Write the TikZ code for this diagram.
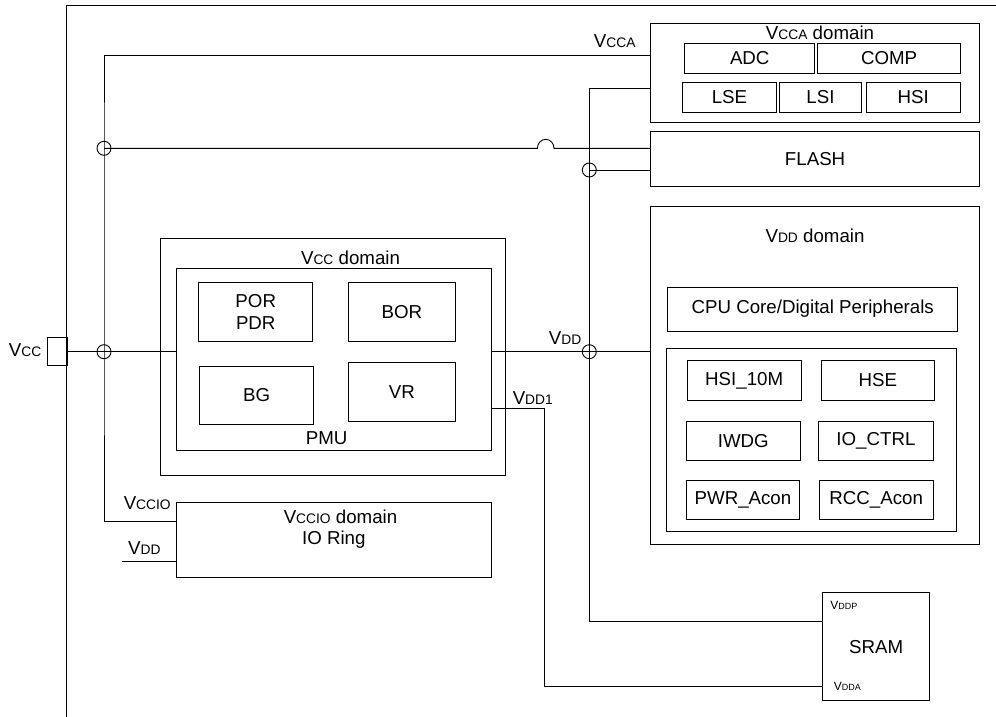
\documentclass[tikz,border=0pt]{standalone}
\usepackage{fontspec}
\setmainfont{Liberation Sans}
\newcommand{\sv}[1]{{\fontsize{13.8}{14}\selectfont #1}}
\newcommand{\tv}[1]{{\fontsize{9}{10}\selectfont #1}}
\newcommand{\tV}{{\fontsize{12}{13}\selectfont V}}
\begin{document}
\begin{tikzpicture}[x=1pt,y=-1pt, line width=0.9pt,
 every node/.style={font=\fontsize{18.7}{22}\selectfont, inner sep=0pt},
 box/.style={draw, anchor=north west, align=center},
 jn/.style={draw, circle, minimum size=14pt, inner sep=0pt}]
\useasboundingbox (0,0) rectangle (996,717);
% outer frame
\draw (66.7,717) -- (66.7,5.5) -- (996,5.5);
% VCCA domain
\node[box, minimum width=329.3pt, minimum height=99pt] (vccadom) at (650,22.7) {};
\node (vccat) at (820,33) {V\sv{CCA} domain};
\node[box, minimum width=130pt, minimum height=30pt] (adc) at (684.3,42.7) {ADC};
\node[box, minimum width=142.7pt, minimum height=30pt] (comp) at (817.3,42.7) {COMP};
\node[box, minimum width=93.4pt, minimum height=30.6pt] (lse) at (682.3,81.7) {LSE};
\node[box, minimum width=82pt, minimum height=30.6pt] (lsi) at (779,81.7) {LSI};
\node[box, minimum width=94.3pt, minimum height=30.6pt] (hsi) at (865.7,81.7) {HSI};
% FLASH
\node[box, minimum width=329.3pt, minimum height=55pt] (flash) at (650,130.7) {FLASH};
% VDD domain
\node[box, minimum width=329.8pt, minimum height=338pt] (vdddom) at (649.5,206) {};
\node (vddt) at (815,236) {V\sv{DD} domain};
\node[box, minimum width=290pt, minimum height=44pt] (cpu) at (667.3,286.7) {CPU Core/Digital Peripherals};
\node[box, minimum width=290.3pt, minimum height=182.4pt] (grp) at (665.7,348.3) {};
\node[box, minimum width=114pt, minimum height=40pt] (hsi10) at (686.7,360) {HSI\_10M};
\node[box, minimum width=113.6pt, minimum height=40pt] (hse) at (820.7,360) {HSE};
\node[box, minimum width=113.7pt, minimum height=39.3pt] (iwdg) at (686,420.7) {IWDG};
\node[box, minimum width=114.4pt, minimum height=39.3pt] (ioctrl) at (818.3,420.7) {IO\_CTRL};
\node[box, minimum width=113pt, minimum height=39.3pt] (pwr) at (686,480) {PWR\_Acon};
\node[box, minimum width=114pt, minimum height=39.3pt] (rcc) at (818.7,480) {RCC\_Acon};
% SRAM
\node[box, minimum width=106.7pt, minimum height=107.7pt] (sram) at (822.3,592.3) {SRAM};
\node[anchor=base west] (vddp) at (830,609.3) {\tV\tv{DDP}};
\node[anchor=base west] (vdda) at (833.3,690.7) {\tV\tv{DDA}};
% Vcc domain
\node[box, minimum width=345pt, minimum height=236.7pt] (vccdom) at (160,238.3) {};
\node (vcct) at (350.5,258.3) {V\sv{CC} domain};
\node[box, minimum width=314.7pt, minimum height=181.7pt] (pmu) at (176,268.3) {};
\node (pmut) at (326.7,438.3) {PMU};
\node[box, minimum width=114pt, minimum height=58.7pt] (por) at (198.3,282.3) {POR\\PDR};
\node[box, minimum width=114pt, minimum height=58.6pt] (bg) at (199.3,365.7) {BG};
\node[box, minimum width=107.3pt, minimum height=58.7pt] (bor) at (347.7,282.3) {BOR};
\node[box, minimum width=107.3pt, minimum height=59.3pt] (vr) at (347.7,361.7) {VR};
% Vcc pin
\node[box, minimum width=20pt, minimum height=28.3pt] (pin) at (46.7,336.7) {};
\node[anchor=base east] (vccl) at (41.7,356.7) {V\sv{CC}};
% VCCIO domain
\node[box, minimum width=314.4pt, minimum height=75.6pt] (vccio) at (176.3,501.7) {};
\node (vcciot) at (340.5,516.7) {V\sv{CCIO} domain};
\node (iort) at (333.8,539.3) {IO Ring};
% junctions
\node[jn] (j1) at (104,148.3) {};
\node[jn] (j2) at (104,351.7) {};
\node[jn] (j3) at (589.3,170) {};
\node[jn] (j4) at (589.3,351.7) {};
% labels
\node[anchor=base east] (lvcca) at (636,47.7) {V\sv{CCA}};
\node[anchor=base east] (lvdd) at (581.7,344.3) {V\sv{DD}};
\node[anchor=base west] (lvdd1) at (512.3,404) {V\sv{DD1}};
\node[anchor=base west] (lvccio) at (123.3,509.3) {V\sv{CCIO}};
\node[anchor=base west] (lvdd2) at (127.7,554.3) {V\sv{DD}};
% coordinates
\coordinate (ca) at (650,55.3);
\coordinate (cb) at (104,55.3);
\coordinate (cc) at (104,521);
\coordinate (cd) at (176.3,521);
\coordinate (ce) at (650,88.7);
\coordinate (cf) at (589.3,88.7);
\coordinate (cg) at (589.3,621.7);
\coordinate (ch) at (490.7,408.3);
\coordinate (ci) at (544.3,408.3);
\coordinate (cj) at (544.3,686.7);
\coordinate (ck) at (122.3,561);
\coordinate (hop) at (537.4,148.3);
% connectors
\draw (ca) -- (cb) -- (j1.center) -- (j2.center) -- (cc) -- (cd);
\draw (pin.east |- j2) -- (pmu.west |- j2);
\draw (j1.center) -- (hop) arc[start angle=180, end angle=0, x radius=8.3pt, y radius=9pt] -- (flash.west |- j1);
\draw (j3.center) -- (flash.west |- j3);
\draw (ce) -- (cf) -- (j3.center) -- (j4.center) -- (cg) -- (sram.west |- cg);
\draw (pmu.east |- j4) -- (vdddom.west |- j4);
\draw (ch) -- (ci) -- (cj) -- (sram.west |- cj);
\draw (ck) -- (vccio.west |- ck);
\end{tikzpicture}
\end{document}
